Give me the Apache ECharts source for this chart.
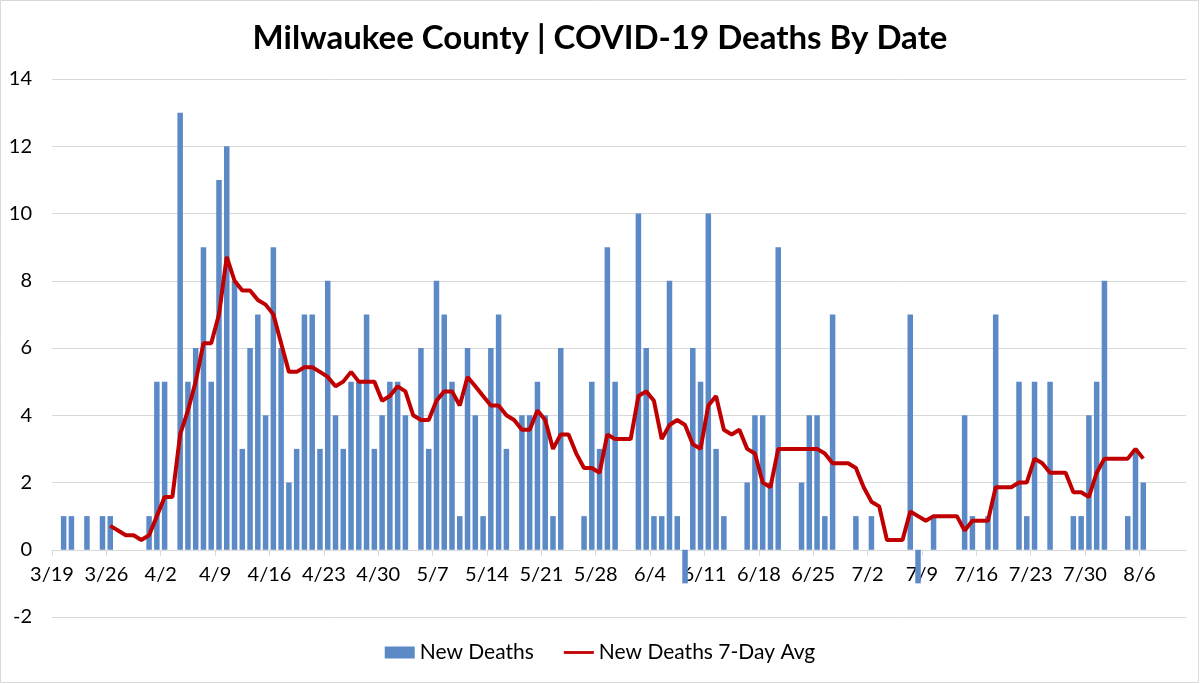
<!DOCTYPE html>
<html>
<head>
<meta charset="utf-8">
<script src="https://cdn.jsdelivr.net/npm/echarts@6/dist/echarts.min.js"></script>
<style>
  html, body { margin: 0; padding: 0; background: #fff; }
  #chart { width: 1200px; height: 684px; }
</style>
</head>
<body>
<div id="chart"></div>
<script>
const title = 'Milwaukee County | COVID-19 Deaths By Date';

const dates = [
  '3/19','3/20','3/21','3/22','3/23','3/24','3/25','3/26','3/27','3/28','3/29','3/30','3/31',
  '4/1','4/2','4/3','4/4','4/5','4/6','4/7','4/8','4/9','4/10','4/11','4/12','4/13','4/14','4/15','4/16','4/17','4/18','4/19','4/20','4/21','4/22','4/23','4/24','4/25','4/26','4/27','4/28','4/29','4/30',
  '5/1','5/2','5/3','5/4','5/5','5/6','5/7','5/8','5/9','5/10','5/11','5/12','5/13','5/14','5/15','5/16','5/17','5/18','5/19','5/20','5/21','5/22','5/23','5/24','5/25','5/26','5/27','5/28','5/29','5/30','5/31',
  '6/1','6/2','6/3','6/4','6/5','6/6','6/7','6/8','6/9','6/10','6/11','6/12','6/13','6/14','6/15','6/16','6/17','6/18','6/19','6/20','6/21','6/22','6/23','6/24','6/25','6/26','6/27','6/28','6/29','6/30',
  '7/1','7/2','7/3','7/4','7/5','7/6','7/7','7/8','7/9','7/10','7/11','7/12','7/13','7/14','7/15','7/16','7/17','7/18','7/19','7/20','7/21','7/22','7/23','7/24','7/25','7/26','7/27','7/28','7/29','7/30','7/31',
  '8/1','8/2','8/3','8/4','8/5','8/6'
];

const newDeaths = [
  0,1,1,0,1,0,1,1,0,0,0,0,1,
  5,5,0,13,5,6,9,5,11,12,8,3,6,7,4,9,6,2,3,7,7,3,8,4,3,5,5,7,3,4,
  5,5,4,0,6,3,8,7,5,1,6,4,1,6,7,3,0,4,4,5,4,1,6,0,0,1,5,3,9,5,0,
  0,10,6,1,1,8,1,-1,6,5,10,3,1,0,0,2,4,4,2,9,0,0,2,4,4,1,7,0,0,1,
  0,1,0,0,0,0,7,-1,0,1,0,0,0,4,1,0,1,7,0,0,5,1,5,0,5,0,0,1,1,4,5,
  8,0,0,1,3,2
];

const avg7 = [
  null,null,null,null,null,null,null,0.71,0.57,0.43,0.43,0.29,0.43,
  1.00,1.57,1.57,3.43,4.14,5.00,6.14,6.14,7.00,8.71,8.00,7.71,7.71,7.43,7.29,7.00,6.14,5.29,5.29,5.43,5.43,5.29,5.14,4.86,5.00,5.29,5.00,5.00,5.00,4.43,
  4.57,4.86,4.71,4.00,3.86,3.86,4.43,4.71,4.71,4.29,5.14,4.86,4.57,4.29,4.29,4.00,3.86,3.57,3.57,4.14,3.86,3.00,3.43,3.43,2.86,2.43,2.43,2.29,3.43,3.29,3.29,
  3.29,4.57,4.71,4.43,3.29,3.71,3.86,3.71,3.14,3.00,4.29,4.57,3.57,3.43,3.57,3.00,2.86,2.00,1.86,3.00,3.00,3.00,3.00,3.00,3.00,2.86,2.57,2.57,2.57,2.43,
  1.86,1.43,1.29,0.29,0.29,0.29,1.14,1.00,0.86,1.00,1.00,1.00,1.00,0.57,0.86,0.86,0.86,1.86,1.86,1.86,2.00,2.00,2.71,2.57,2.29,2.29,2.29,1.71,1.71,1.57,2.29,
  2.71,2.71,2.71,2.71,3.00,2.71
];

const tickLabels = ['3/19','3/26','4/2','4/9','4/16','4/23','4/30','5/7','5/14','5/21','5/28','6/4','6/11','6/18','6/25','7/2','7/9','7/16','7/23','7/30','8/6'];

const yTicks = [-2, 0, 2, 4, 6, 8, 10, 12, 14];

// day slots: each date occupies one unit on the x axis; marks sit at slot centers
const axisDays = 146;
const tickPos = tickLabels.map(l => dates.indexOf(l));

const barData = newDeaths.map((v, i) => [i + 0.5, v]);
const lineData = [];
avg7.forEach((v, i) => { if (v !== null) lineData.push([i + 0.5, v]); });

const GRID = { left: 52, right: 14, top: 79, bottom: 67 };
const CH = 684;
const yMin = yTicks[0], yMax = yTicks[yTicks.length - 1];
// move the date axis up from the grid bottom to the zero line
const zeroOffset = -((0 - yMin) / (yMax - yMin)) * (CH - GRID.top - GRID.bottom);

const chart = echarts.init(document.getElementById('chart'), null, { renderer: 'canvas' });
const FONT = 'Lato, "Open Sans", sans-serif';

chart.setOption({
  animation: false,
  backgroundColor: '#ffffff',
  title: {
    text: title,
    left: 'center',
    top: 17,
    textStyle: { fontFamily: FONT, fontWeight: 'bold', fontSize: 33, color: '#000' }
  },
  legend: {
    bottom: 16,
    left: 'center',
    itemGap: 30,
    itemWidth: 30,
    itemHeight: 12,
    textStyle: { fontFamily: FONT, fontSize: 21, color: '#000' },
    data: [
      { name: 'New Deaths', icon: 'rect' },
      { name: 'New Deaths 7-Day Avg', icon: 'path://M0,0L32,0L32,3L0,3Z' }
    ]
  },
  grid: GRID,
  xAxis: {
    type: 'value',
    min: 0,
    max: axisDays,
    position: 'bottom',
    offset: zeroOffset,
    axisLine: { onZero: false, lineStyle: { color: '#D9D9D9', width: 1 } },
    axisTick: { show: true, length: 6, customValues: tickPos, lineStyle: { color: '#D9D9D9' } },
    axisLabel: {
      customValues: tickPos,
      margin: 15,
      fontFamily: FONT,
      fontSize: 20,
      color: '#000',
      formatter: v => dates[Math.round(v)]
    },
    splitLine: { show: false }
  },
  yAxis: {
    type: 'value',
    min: yMin,
    max: yMax,
    interval: 2,
    axisLine: { show: false, onZero: false },
    axisTick: { show: false },
    axisLabel: { margin: 20, fontFamily: FONT, fontSize: 20, color: '#000' },
    splitLine: { lineStyle: { color: '#D9D9D9', width: 1 } }
  },
  series: [
    {
      name: 'New Deaths',
      type: 'bar',
      data: barData,
      barWidth: 5.5,
      itemStyle: { color: '#5B8AC6' },
      z: 2
    },
    {
      name: 'New Deaths 7-Day Avg',
      type: 'line',
      data: lineData,
      symbol: 'none',
      lineStyle: { color: '#C00000', width: 4 },
      itemStyle: { color: '#C00000' },
      z: 3
    }
  ],
  graphic: [
    {
      type: 'rect',
      shape: { x: 0.5, y: 0.5, width: 1198, height: 682 },
      style: { fill: null, stroke: '#D9D9D9', lineWidth: 1 },
      silent: true
    }
  ]
});
</script>
</body>
</html>
